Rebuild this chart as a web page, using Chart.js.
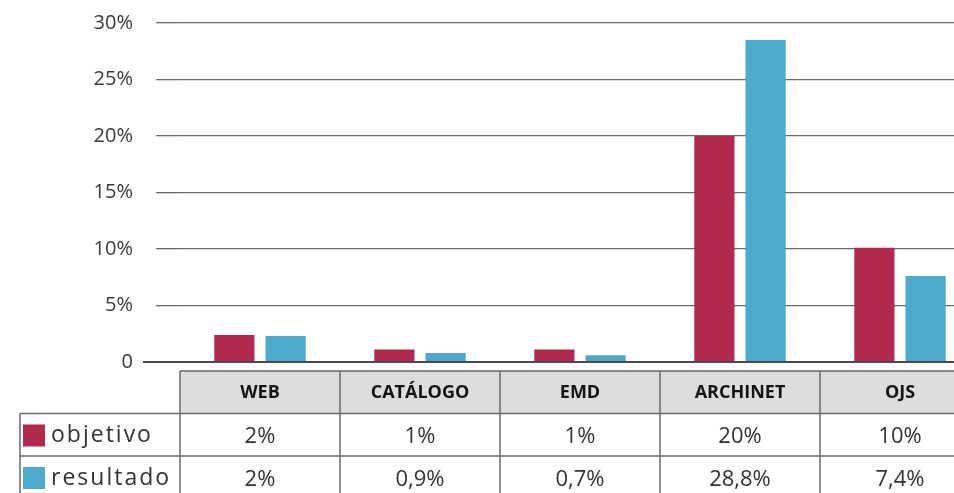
<!DOCTYPE html>
<html>
<head>
<meta charset="utf-8">
<script src="https://cdn.jsdelivr.net/npm/chart.js@4"></script>
<style>
  html, body { margin: 0; padding: 0; background: #fff; overflow: hidden; }
  #wrap { width: 1000px; height: 493px; position: relative; }
</style>
</head>
<body>
<div id="wrap"><canvas id="chart"></canvas></div>
<script>
// Values
const categories = ['WEB', 'CATÁLOGO', 'EMD', 'ARCHINET', 'OJS'];
const objetivo = [2.4, 1.1, 1.1, 20, 10.1];
const resultado = [2.3, 0.8, 0.6, 28.5, 7.6];
const objetivoText = ['2%', '1%', '1%', '20%', '10%'];
const resultadoText = ['2%', '0,9%', '0,7%', '28,8%', '7,4%'];
const yTicks = [0, 5, 10, 15, 20, 25, 30];

const COL_OBJ = '#b0294f';
const COL_RES = '#4daacd';
const LINE = '#6a6a6a';
const FONT = "'Open Sans', 'Noto Sans', sans-serif";

// zero line (longer than the grid lines) + data table under the plot
const tablePlugin = {
  id: 'dataTable',
  afterDatasetsDraw(chart) {
    const { ctx, chartArea } = chart;
    const ys = chart.scales.y;
    const y0 = ys.getPixelForValue(0);
    ctx.save();
    ctx.strokeStyle = '#4a4a4a';
    ctx.lineWidth = 2;
    ctx.beginPath();
    ctx.moveTo(chartArea.left - 37, y0);
    ctx.lineTo(chartArea.right, y0);
    ctx.stroke();
    ctx.restore();
  },
  afterDraw(chart) {
    const { ctx, chartArea } = chart;
    const xs = chart.scales.x;
    const catW = (xs.right - xs.left) / categories.length;
    const top = chartArea.bottom + 9;
    const rowH = 42.5;
    const left = xs.left;
    const right = xs.right;
    const legLeft = left - catW;

    ctx.save();
    // header background
    ctx.fillStyle = '#dcdddf';
    ctx.fillRect(left, top, right - left, rowH);

    ctx.strokeStyle = LINE;
    ctx.lineWidth = 1.5;
    ctx.beginPath();
    // horizontal lines
    ctx.moveTo(left, top); ctx.lineTo(right, top);
    for (let r = 1; r <= 3; r++) {
      ctx.moveTo(legLeft, top + rowH * r);
      ctx.lineTo(right, top + rowH * r);
    }
    // vertical lines
    ctx.moveTo(legLeft, top + rowH); ctx.lineTo(legLeft, top + rowH * 3);
    for (let i = 0; i <= categories.length; i++) {
      const x = left + catW * i;
      ctx.moveTo(x, top); ctx.lineTo(x, top + rowH * 3);
    }
    ctx.stroke();

    ctx.textAlign = 'center';
    ctx.textBaseline = 'middle';
    categories.forEach((c, i) => {
      const cx = xs.getPixelForValue(i);
      ctx.fillStyle = '#141414';
      ctx.font = `bold 18px ${FONT}`;
      ctx.fillText(c, cx, top + rowH / 2 + 1);
      ctx.fillStyle = '#333';
      ctx.font = `22px ${FONT}`;
      ctx.fillText(objetivoText[i], cx, top + rowH * 1.5 + 2);
      ctx.fillText(resultadoText[i], cx, top + rowH * 2.5 + 2);
    });

    // legend column
    const series = [['objetivo', COL_OBJ], ['resultado', COL_RES]];
    series.forEach(([name, col], r) => {
      const rt = top + rowH * (r + 1);
      ctx.fillStyle = col;
      ctx.fillRect(legLeft + 3, rt + 11, 22, 22);
      ctx.fillStyle = '#333';
      ctx.font = `23px ${FONT}`;
      ctx.textAlign = 'left';
      ctx.letterSpacing = '2px';
      ctx.fillText(name, legLeft + 31, rt + rowH / 2 + 1);
    });
    ctx.restore();
  }
};

new Chart(document.getElementById('chart'), {
  type: 'bar',
  data: {
    labels: categories,
    datasets: [
      { label: 'objetivo', data: objetivo, backgroundColor: COL_OBJ, borderWidth: 0,
        categoryPercentage: 0.64, barPercentage: 0.785 },
      { label: 'resultado', data: resultado, backgroundColor: COL_RES, borderWidth: 0,
        categoryPercentage: 0.64, barPercentage: 0.785 },
    ],
  },
  options: {
    responsive: true,
    maintainAspectRatio: false,
    animation: false,
    layout: { padding: { top: 23, right: 20, bottom: 131, left: 0 } },
    plugins: { legend: { display: false }, tooltip: { enabled: false } },
    scales: {
      x: { display: false },
      y: {
        min: 0, max: 30,
        afterFit: s => { s.width = 180; s.paddingTop = 0; s.paddingBottom = 0; },
        afterBuildTicks: s => { s.ticks = yTicks.map(v => ({ value: v })); },
        border: { display: false },
        grid: {
          color: ctx => ctx.tick && ctx.tick.value === 0 ? 'rgba(0,0,0,0)' : LINE,
          lineWidth: 1.3,
          tickLength: 24,
        },
        ticks: {
          padding: 23,
          color: '#3a3a3a',
          font: { family: FONT, size: 20 },
          callback: v => v === 0 ? '0' : `${v}%`,
        },
      },
    },
  },
  plugins: [tablePlugin],
});
</script>
</body>
</html>
